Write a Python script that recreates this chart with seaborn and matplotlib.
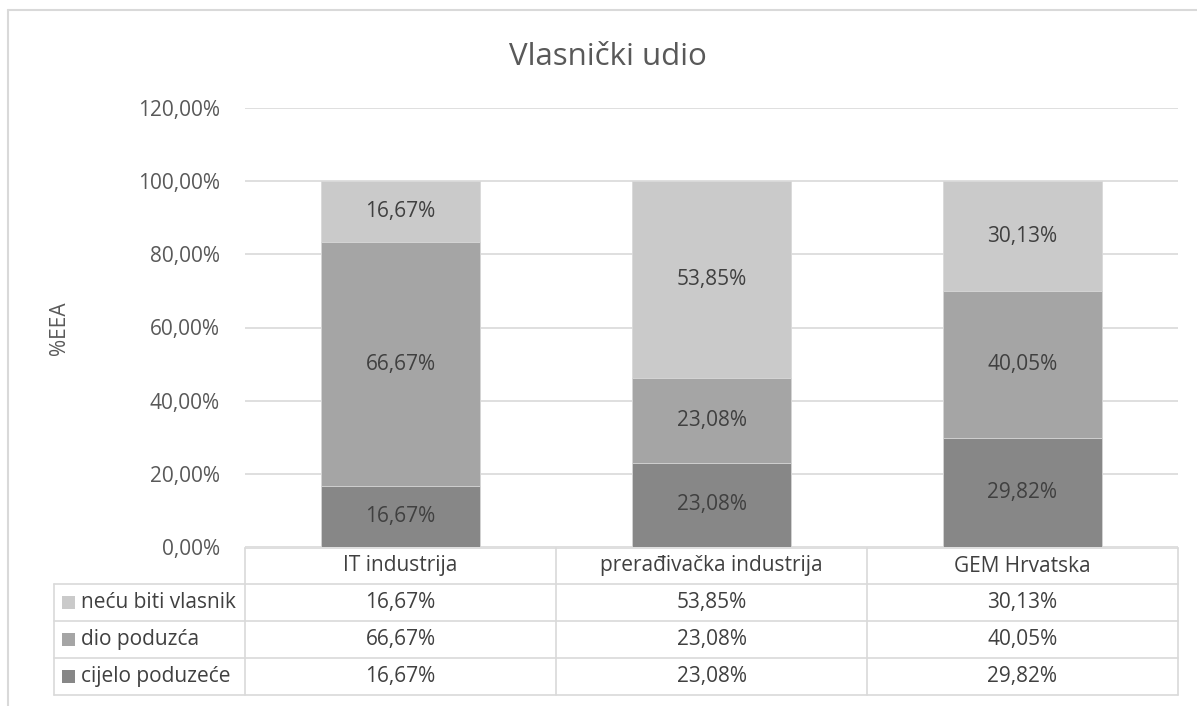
import matplotlib
matplotlib.use("Agg")
import matplotlib.pyplot as plt
import seaborn as sns
import pandas as pd
import numpy as np

# Data
categories = ["IT industrija", "prerađivačka industrija", "GEM Hrvatska"]
series_names = ["cijelo poduzeće", "dio poduzća", "neću biti vlasnik"]
cijelo = [16.67, 23.08, 29.82]
dio = [66.67, 23.08, 40.05]
necu = [16.67, 53.85, 30.13]
yticks = [0, 20, 40, 60, 80, 100, 120]

colors = {"cijelo poduzeće": "#878787", "dio poduzća": "#A5A5A5", "neću biti vlasnik": "#CACACA"}

sns.set_theme(style="white")
plt.rcParams["font.family"] = ["Open Sans", "DejaVu Sans"]

FS = 15
W, H = 1197, 706
fig = plt.figure(figsize=(W / 100, H / 100), dpi=100)

def px(x, y):
    """Pixel position (from top-left) to figure fraction."""
    return x / W, 1 - y / H

ax_left, ax_right, ax_top, ax_bottom = 245, 1178, 108, 547
ax = fig.add_axes([ax_left / W, 1 - ax_bottom / H, (ax_right - ax_left) / W, (ax_bottom - ax_top) / H])

series_vals = {"cijelo poduzeće": cijelo, "dio poduzća": dio, "neću biti vlasnik": necu}

# Stacked bars: draw cumulative totals from the top layer down
cum = np.zeros(len(categories))
bottoms = {}
for name in series_names:
    bottoms[name] = cum.copy()
    cum = cum + np.array(series_vals[name])
cum_tops = {name: bottoms[name] + np.array(series_vals[name]) for name in series_names}

for name in reversed(series_names):
    sns.barplot(x=categories, y=cum_tops[name], color=colors[name], width=0.514,
                saturation=1, ax=ax, edgecolor="#D9D9D9", linewidth=0.6, zorder=3)

# Segment labels
for name in series_names:
    for i, v in enumerate(series_vals[name]):
        ax.text(i, bottoms[name][i] + v / 2, f"{v:.2f}%".replace(".", ","),
                ha="center", va="center", fontsize=FS, color="#404040", zorder=5)

ax.set_ylim(0, 120)
ax.set_xlim(-0.5, 2.5)
ax.set_yticks(yticks)
ax.set_yticklabels([f"{t:.2f}%".replace(".", ",") for t in yticks], fontsize=FS, color="#595959")
ax.tick_params(axis="y", length=0, pad=18)
ax.set_xticks([])
ax.set_xlabel("")
ax.yaxis.grid(True, color="#D9D9D9", linewidth=1.2, zorder=0)
ax.set_axisbelow(True)
for s in ax.spines.values():
    s.set_visible(False)

fig.text(*px(59, 328), "%EEA", rotation=90, ha="center", va="center", fontsize=FS, color="#595959")
fig.text(*px(608, 65), "Vlasnički udio", ha="center", va="baseline", fontsize=22.5, color="#595959")

# Outer chart border
fig.add_artist(plt.Line2D([8 / W, 8 / W], [0, 1 - 10 / H], transform=fig.transFigure, color="#D9D9D9", lw=1.5))
fig.add_artist(plt.Line2D([8 / W, 1], [1 - 10 / H, 1 - 10 / H], transform=fig.transFigure, color="#D9D9D9", lw=1.5))

# Data table below the plot
line_kw = dict(transform=fig.transFigure, color="#D9D9D9", lw=1.2)
row_y = [548, 584, 621, 658, 695]
col_x = [245, 556, 867, 1178]
legend_left = 54

def hline(x0, x1, y):
    fig.add_artist(plt.Line2D([x0 / W, x1 / W], [1 - y / H, 1 - y / H], **line_kw))

def vline(x, y0, y1):
    fig.add_artist(plt.Line2D([x / W, x / W], [1 - y0 / H, 1 - y1 / H], **line_kw))

hline(col_x[0], col_x[-1], row_y[0])
for y in row_y[1:]:
    hline(legend_left, col_x[-1], y)
for x in col_x:
    vline(x, row_y[0], row_y[-1])
vline(legend_left, row_y[1], row_y[-1])

for j, cat in enumerate(categories):
    cx = (col_x[j] + col_x[j + 1]) / 2
    fig.text(*px(cx, (row_y[0] + row_y[1]) / 2), cat, ha="center", va="center",
             fontsize=FS, color="#404040")

table_order = ["neću biti vlasnik", "dio poduzća", "cijelo poduzeće"]
for r, name in enumerate(table_order):
    cy = (row_y[r + 1] + row_y[r + 2]) / 2
    fig.add_artist(plt.Rectangle(px(62, cy + 6.5), 13 / W, 13 / H, transform=fig.transFigure,
                                 color=colors[name], lw=0))
    fig.text(*px(81, cy), name, ha="left", va="center", fontsize=FS, color="#404040")
    for j, v in enumerate(series_vals[name]):
        cx = (col_x[j] + col_x[j + 1]) / 2
        fig.text(*px(cx, cy), f"{v:.2f}%".replace(".", ","), ha="center", va="center",
                 fontsize=FS, color="#404040")

fig.savefig("out.png", dpi=100, facecolor="white")
